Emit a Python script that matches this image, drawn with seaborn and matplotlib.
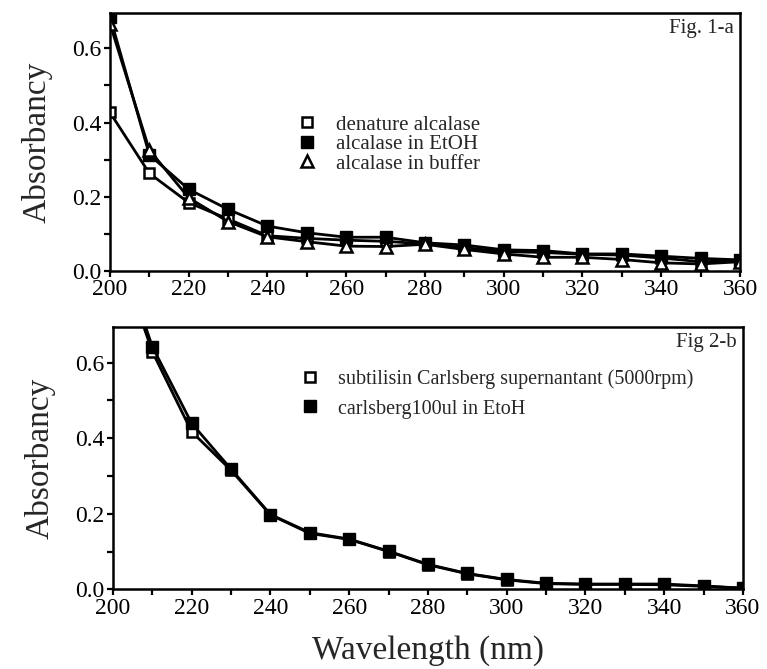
import numpy as np
import matplotlib
matplotlib.use("Agg")
import matplotlib.pyplot as plt
import seaborn as sns
from matplotlib.ticker import MultipleLocator

# wavelengths (nm)
wavelength = [200, 210, 220, 230, 240, 250, 260, 270, 280, 290, 300, 310, 320, 330, 340, 350, 360]

# Fig. 1-a
denature_alcalase = [0.427, 0.263, 0.184, 0.140, 0.095, 0.088, 0.083, 0.080, 0.073, 0.063,
                     0.052, 0.050, 0.045, 0.043, 0.035, 0.025, 0.028]
alcalase_etoh = [0.685, 0.313, 0.220, 0.166, 0.121, 0.103, 0.091, 0.091, 0.076, 0.070,
                 0.057, 0.055, 0.046, 0.046, 0.040, 0.034, 0.030]
alcalase_buffer = [0.666, 0.326, 0.197, 0.133, 0.092, 0.079, 0.067, 0.066, 0.072, 0.058,
                   0.046, 0.037, 0.037, 0.031, 0.022, 0.019, 0.025]

# Fig 2-b (200 nm point is off scale)
supernatant = [0.930, 0.629, 0.417, 0.315, 0.197, 0.148, 0.132, 0.100, 0.065, 0.041,
               0.025, 0.015, 0.013, 0.013, 0.012, 0.008, 0.003]
carlsberg_etoh = [0.950, 0.642, 0.439, 0.318, 0.198, 0.150, 0.133, 0.101, 0.066, 0.042,
                  0.026, 0.016, 0.014, 0.014, 0.014, 0.009, 0.003]

sns.set_style("ticks")
plt.rcParams['font.family'] = ['Liberation Serif', 'DejaVu Serif']

fig = plt.figure(figsize=(7.67, 6.69), dpi=100)
ax1 = fig.add_axes([0.1434, 0.5949, 0.8214, 0.3857])
ax2 = fig.add_axes([0.1473, 0.1191, 0.8214, 0.3925])

open_sq = dict(marker='s', markersize=7, markerfacecolor='white', markeredgecolor='k', markeredgewidth=1.8)
fill_sq = dict(marker='s', markersize=8, markerfacecolor='k', markeredgecolor='k', markeredgewidth=1.0)
open_tri = dict(marker='^', markersize=8.5, markerfacecolor='white', markeredgecolor='k', markeredgewidth=1.8)

sns.lineplot(x=wavelength, y=denature_alcalase, ax=ax1, color='k', lw=2, label='denature alcalase', **open_sq)
sns.lineplot(x=wavelength, y=alcalase_etoh, ax=ax1, color='k', lw=2, label='alcalase in EtOH', **fill_sq)
sns.lineplot(x=wavelength, y=alcalase_buffer, ax=ax1, color='k', lw=2, label='alcalase in buffer', **open_tri)

sns.lineplot(x=wavelength, y=supernatant, ax=ax2, color='k', lw=2,
             label='subtilisin Carlsberg supernantant (5000rpm)', **open_sq)
sns.lineplot(x=wavelength, y=carlsberg_etoh, ax=ax2, color='k', lw=2,
             label='carlsberg100ul in EtoH', **fill_sq)

for ax in (ax1, ax2):
    ax.set_xlim(200, 360)
    ax.set_ylim(0, 0.695)
    ax.xaxis.set_major_locator(MultipleLocator(20))
    ax.xaxis.set_minor_locator(MultipleLocator(10))
    ax.yaxis.set_major_locator(MultipleLocator(0.2))
    ax.yaxis.set_minor_locator(MultipleLocator(0.1))
    ax.yaxis.set_major_formatter(matplotlib.ticker.FormatStrFormatter('%.1f'))
    ax.tick_params(which='both', direction='out', length=4, width=1.6, colors='k',
                   labelsize=17, pad=2)
    for s in ax.spines.values():
        s.set_linewidth(1.8)
        s.set_color('k')
    ax.set_ylabel('Absorbancy', fontsize=24, labelpad=14)
    ax.set_xlabel('')

ax1.text(0.99, 0.975, 'Fig. 1-a', transform=ax1.transAxes, ha='right', va='top', fontsize=15)
ax2.text(0.99, 0.975, 'Fig 2-b', transform=ax2.transAxes, ha='right', va='top', fontsize=15)
ax2.set_xlabel('Wavelength (nm)', fontsize=24, labelpad=12)

leg1 = ax1.legend(loc='upper left', bbox_to_anchor=(0.28, 0.645), frameon=False, fontsize=15,
                  handlelength=1.0, handletextpad=0.9, labelspacing=0.0, borderpad=0)
leg2 = ax2.legend(loc='upper left', bbox_to_anchor=(0.28, 0.875), frameon=False, fontsize=14.5,
                  handlelength=1.0, handletextpad=0.9, labelspacing=0.5, borderpad=0)
for leg in (leg1, leg2):
    for h in leg.legend_handles:
        h.set_linestyle('')

fig.savefig('out.png', dpi=100)
